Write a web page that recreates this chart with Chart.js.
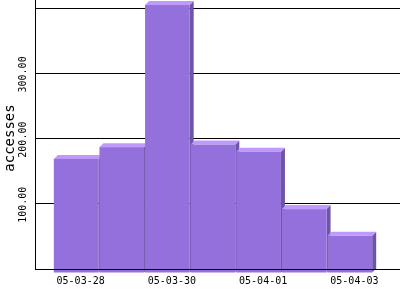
<!DOCTYPE html>
<html>
<head>
<meta charset="utf-8">
<script src="https://cdn.jsdelivr.net/npm/chart.js@4.4.1/dist/chart.umd.min.js"></script>
<style>
  body { margin: 0; background: #fff; }
</style>
</head>
<body>
<canvas id="accesses_chart" width="400" height="300"></canvas>
<script>
var days = ['05-03-28', '05-03-29', '05-03-30', '05-03-31', '05-04-01', '05-04-02', '05-04-03'];
var accesses = [175, 193, 411, 197, 186, 98, 57];
var yTicks = [100, 200, 300];
var gridTicks = [0, 100, 200, 300, 400];
var xTicks = [0, 2, 4, 6];

var frontColor = '#9370DB';
var topColor = '#C09AFA';
var sideColor = '#6D55A8';
var depth = 4;

// bars are drawn by hand to get the 3d look
var bars3d = {
  id: 'bars3d',
  afterDatasetsDraw: function(chart) {
    var ctx = chart.ctx;
    var meta = chart.getDatasetMeta(0);
    ctx.save();
    meta.data.forEach(function(bar) {
      var w = bar.width - 1;
      var x = bar.x - bar.width / 2 - depth;
      var top = bar.y + depth;
      var bottom = bar.base + depth;

      ctx.fillStyle = sideColor;
      ctx.beginPath();
      ctx.moveTo(x + w, top);
      ctx.lineTo(x + w + depth, top - depth);
      ctx.lineTo(x + w + depth, bottom - depth);
      ctx.lineTo(x + w, bottom);
      ctx.closePath();
      ctx.fill();

      ctx.fillStyle = topColor;
      ctx.beginPath();
      ctx.moveTo(x, top);
      ctx.lineTo(x + depth, top - depth);
      ctx.lineTo(x + w + depth, top - depth);
      ctx.lineTo(x + w, top);
      ctx.closePath();
      ctx.fill();

      ctx.fillStyle = frontColor;
      ctx.fillRect(x, top, w, bottom - top);
    });
    ctx.restore();
  },
  afterDraw: function(chart) {
    var ctx = chart.ctx;
    var y = chart.scales.y;
    ctx.save();
    ctx.fillStyle = '#000';
    ctx.textAlign = 'center';
    ctx.textBaseline = 'middle';
    ctx.font = '10px "DejaVu Sans Mono"';
    yTicks.forEach(function(v) {
      ctx.save();
      ctx.translate(23, y.getPixelForValue(v) + 1);
      ctx.rotate(-Math.PI / 2);
      ctx.fillText(v.toFixed(2), 0, 0);
      ctx.restore();
    });
    ctx.font = '14px "DejaVu Sans Mono"';
    ctx.translate(10, 138);
    ctx.rotate(-Math.PI / 2);
    ctx.fillText('accesses', 0, 0);
    ctx.restore();
  }
};

var ctx = document.getElementById('accesses_chart').getContext('2d');

var chartInstance = new Chart(ctx, {
  type: 'bar',
  data: {
    datasets: [{
      data: accesses.map(function(v, i) { return { x: i, y: v }; }),
      backgroundColor: 'rgba(0,0,0,0)',
      borderWidth: 0,
      barPercentage: 1,
      categoryPercentage: 1
    }]
  },
  options: {
    responsive: false,
    animation: false,
    events: [],
    layout: { padding: 0 },
    plugins: {
      legend: { display: false },
      tooltip: { enabled: false }
    },
    scales: {
      x: {
        type: 'linear',
        offset: false,
        min: -1,
        max: 7,
        afterFit: function(s) { s.height = 31; },
        afterBuildTicks: function(s) {
          s.ticks = xTicks.map(function(v) { return { value: v }; });
        },
        grid: { display: false, drawTicks: false },
        border: { display: true, color: '#000', width: 1, z: 1 },
        ticks: {
          color: '#000',
          padding: 6,
          maxRotation: 0,
          autoSkip: false,
          font: { family: '"DejaVu Sans Mono"', size: 10 },
          callback: function(v) { return days[v]; }
        }
      },
      y: {
        min: 0,
        max: 412.6,
        afterFit: function(s) { s.width = 35; },
        afterBuildTicks: function(s) {
          s.ticks = gridTicks.map(function(v) { return { value: v }; });
        },
        grid: { color: '#000', lineWidth: 1, drawTicks: false },
        border: { display: true, color: '#000', width: 1 },
        ticks: { display: false }
      }
    }
  },
  plugins: [bars3d]
});
</script>
</body>
</html>
